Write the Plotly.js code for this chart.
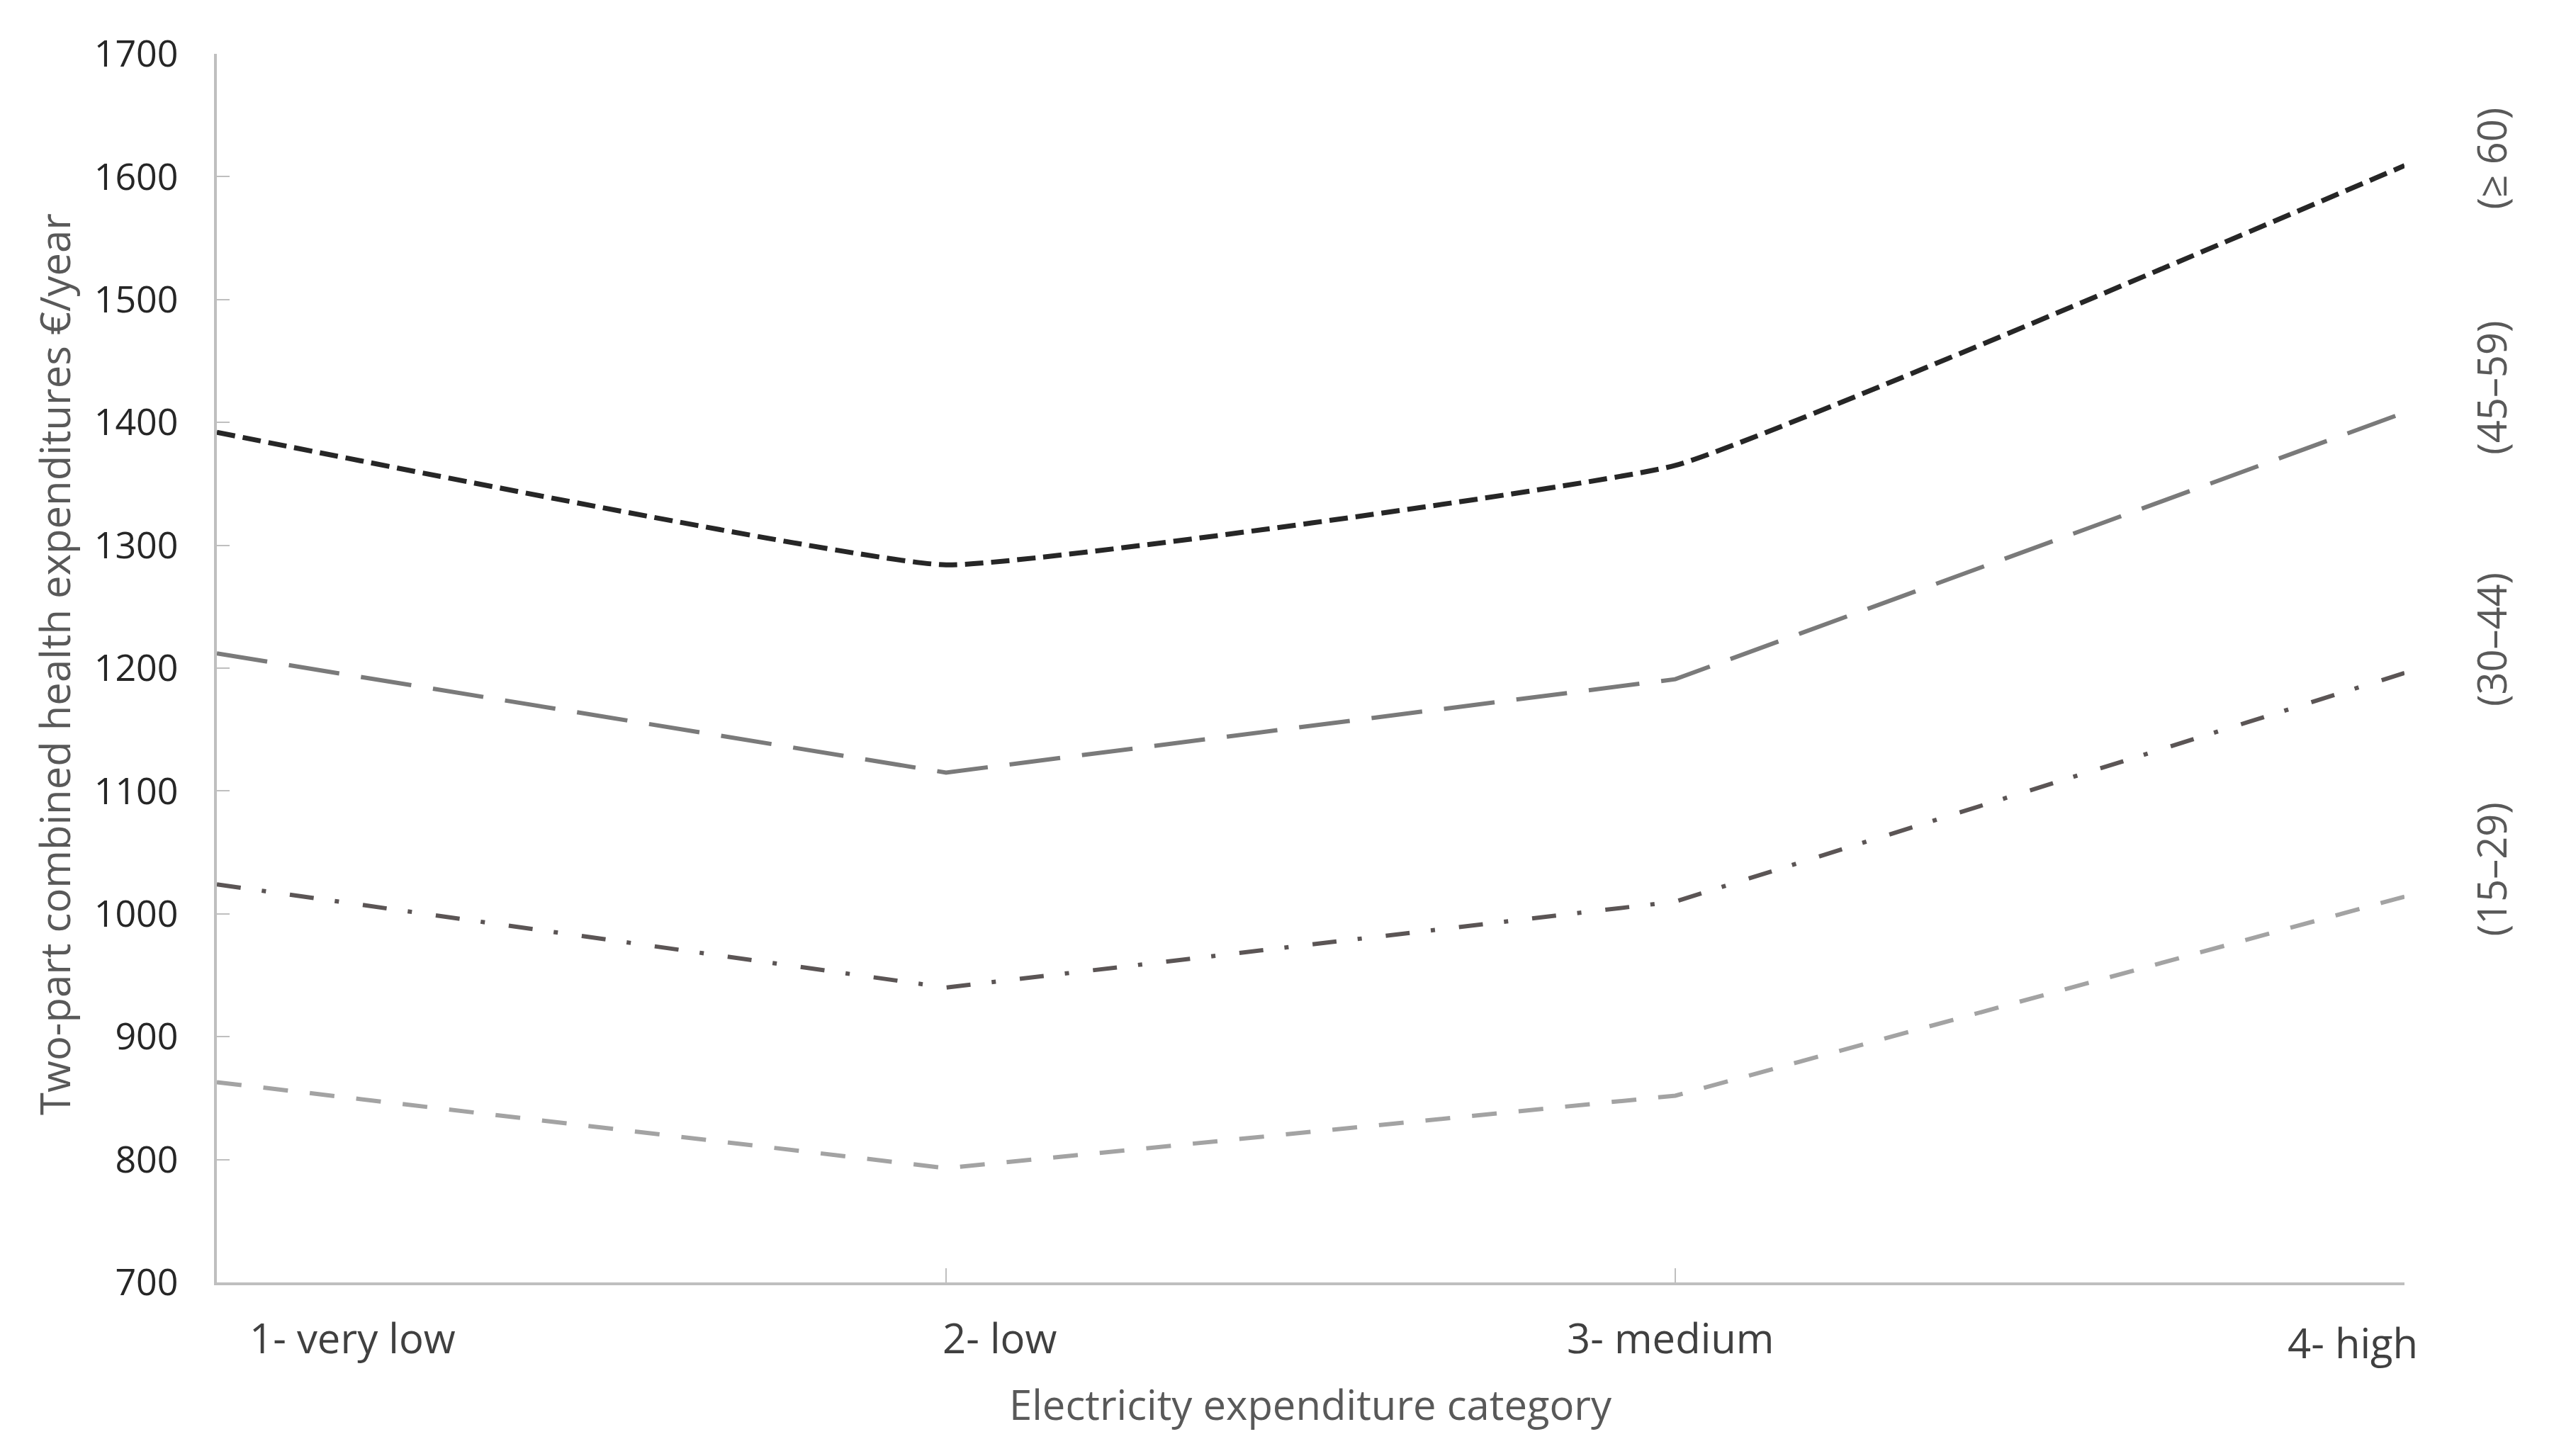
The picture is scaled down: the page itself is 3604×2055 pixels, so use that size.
<!DOCTYPE html>
<html>
<head>
<meta charset="utf-8">
<script src="https://cdn.plot.ly/plotly-3.0.1.min.js"></script>
<style>
html,body{margin:0;padding:0;background:#fff;}
#chart{width:3604px;height:2055px;}
</style>
</head>
<body>
<div id="chart"></div>
<script>
// ---- data ----
const categories = ["1- very low", "2- low", "3- medium", "4- high"];
const ageGroups = ["(≥ 60)", "(45–59)", "(30–44)", "(15–29)"];
const age60plus = [1392, 1284, 1365, 1609];
const age45to59 = [1212, 1115, 1191, 1408];
const age30to44 = [1024, 940, 1010, 1196];
const age15to29 = [863, 793, 852, 1014];
const xAxisTitle = "Electricity expenditure category";
const yAxisTitle = "Two-part combined health expenditures €/year";
const yTickVals = [700, 800, 900, 1000, 1100, 1200, 1300, 1400, 1500, 1600, 1700];

// ---- styles ----
const FONT = "Open Sans, Liberation Sans, sans-serif";
const seriesValues = [age60plus, age45to59, age30to44, age15to29];
const seriesStyles = [
  {color: "#262626", width: 7, dash: "26px,11px", shape: "spline", smoothing: 0.3},
  {color: "#7a7a7a", width: 6, dash: "72px,31px", shape: "linear"},
  {color: "#5b5555", width: 6, dash: "34px,30px,6px,34px", shape: "linear"},
  {color: "#a3a3a3", width: 6, dash: "35px,31px", shape: "linear"}
];
// right-side label vertical positions (paper fraction) and category label shifts
const groupLabelY = [0.915, 0.728, 0.523, 0.336];
const catShiftX = [191, 75, -7, -73];
const catShiftY = [0, 0, 0, -7];

const traces = seriesValues.map((vals, i) => ({
  type: "scatter",
  mode: "lines",
  x: categories,
  y: vals,
  name: ageGroups[i],
  line: {
    color: seriesStyles[i].color,
    width: seriesStyles[i].width,
    dash: seriesStyles[i].dash,
    shape: seriesStyles[i].shape,
    smoothing: seriesStyles[i].smoothing
  },
  hoverinfo: "x+y+name"
}));

const annotations = [];
categories.forEach((c, i) => {
  annotations.push({
    x: c, xref: "x", y: 0, yref: "paper",
    yanchor: "middle", xanchor: "center",
    yshift: -77 + catShiftY[i], xshift: catShiftX[i],
    text: c, showarrow: false,
    font: {family: FONT, size: 58, color: "#404040"}
  });
});
ageGroups.forEach((g, i) => {
  annotations.push({
    x: 1, xref: "paper", xshift: 122,
    y: groupLabelY[i], yref: "paper",
    xanchor: "center", yanchor: "middle",
    text: g, textangle: -90, showarrow: false,
    font: {family: FONT, size: 56, color: "#595959"}
  });
});
annotations.push({
  x: 0.5, xref: "paper", xshift: 0,
  y: 0, yref: "paper", yshift: -171,
  xanchor: "center", yanchor: "middle",
  text: xAxisTitle, showarrow: false,
  font: {family: FONT, size: 58, color: "#595959"}
});
annotations.push({
  x: 0, xref: "paper", xshift: -230,
  y: 0.5, yref: "paper", yshift: 5,
  xanchor: "center", yanchor: "middle",
  text: yAxisTitle, textangle: -90, showarrow: false,
  font: {family: FONT, size: 58, color: "#595959"}
});

const layout = {
  width: 3604, height: 2055,
  paper_bgcolor: "#ffffff", plot_bgcolor: "#ffffff",
  margin: {l: 306, r: 211, t: 76, b: 245, pad: 0},
  showlegend: false,
  xaxis: {
    type: "category",
    range: [0, 3],
    showgrid: false, zeroline: false,
    showline: true, linecolor: "#bfbfbf", linewidth: 4,
    ticks: "inside", ticklen: 20, tickwidth: 2, tickcolor: "#bfbfbf",
    showticklabels: false,
    fixedrange: true
  },
  yaxis: {
    range: [700, 1700],
    tickvals: yTickVals,
    showgrid: false, zeroline: false,
    showline: true, linecolor: "#bfbfbf", linewidth: 4,
    ticks: "inside", ticklen: 18, tickwidth: 2, tickcolor: "#bfbfbf",
    ticklabelstandoff: 40,
    tickfont: {family: FONT, size: 52, color: "#262626"},
    fixedrange: true
  },
  annotations: annotations
};

Plotly.newPlot("chart", traces, layout, {staticPlot: true, displayModeBar: false});
</script>
</body>
</html>
